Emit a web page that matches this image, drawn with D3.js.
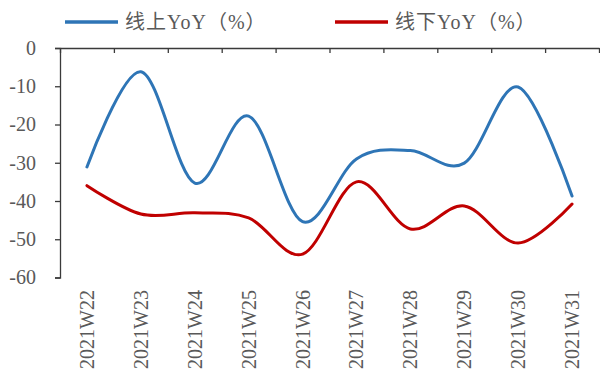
<!DOCTYPE html>
<html>
<head>
<meta charset="utf-8">
<script src="https://cdn.jsdelivr.net/npm/d3@7"></script>
<style>
  html, body { margin: 0; padding: 0; background: #fff; }
  svg { display: block; }
</style>
</head>
<body>
<svg id="chart" width="600" height="371"></svg>
<script>
// Weekly categories
const weeks = ["2021W22", "2021W23", "2021W24", "2021W25", "2021W26",
               "2021W27", "2021W28", "2021W29", "2021W30", "2021W31"];
// Online YoY (%)
const onlineYoY = [-31.1, -6.2, -35.3, -17.8, -45.4, -29.0, -26.8, -30.1, -10.2, -38.7];
// Offline YoY (%)
const offlineYoY = [-36.0, -43.4, -43.1, -44.4, -53.9, -35.0, -47.3, -41.3, -51.0, -40.8];
// Y axis tick values
const yTicks = [0, -10, -20, -30, -40, -50, -60];
// Legend entries
const seriesNames = ["线上YoY（%）", "线下YoY（%）"];
const seriesColors = ["#2E75B6", "#C00000"];

const SERIF = "'Liberation Serif', 'Times New Roman', serif";
const CJK = "'Liberation Serif', 'Noto Sans CJK SC', serif";
const TEXT_COLOR = "#595959";
const AXIS_COLOR = "#3a3a3a";

const svg = d3.select("#chart");
const plot = { left: 60, right: 599, top: 48, bottom: 277.5 };

const x = d3.scaleBand().domain(weeks).range([plot.left, plot.right]).padding(0);
const y = d3.scaleLinear().domain([-60, 0]).range([plot.bottom, plot.top]);

// Y axis (left); plain hyphen for negative numbers
const yAxis = d3.axisLeft(y).tickValues(yTicks).tickSize(5).tickPadding(19).tickFormat(d => String(d));
const gy = svg.append("g").attr("transform", `translate(${plot.left},0)`).call(yAxis);
gy.select(".domain").attr("stroke", AXIS_COLOR).attr("stroke-width", 1.3);
gy.selectAll(".tick line").attr("stroke", AXIS_COLOR).attr("stroke-width", 1.3);
gy.selectAll(".tick text")
  .style("font-size", "20px")
  .style("font-family", SERIF)
  .style("fill", TEXT_COLOR);

// Category axis drawn along the zero line, ticks at band boundaries
const xb = d3.scaleLinear().domain([0, weeks.length]).range([plot.left, plot.right]);
const xAxis = d3.axisBottom(xb).tickValues(d3.range(0, weeks.length + 1)).tickSize(5).tickFormat("").tickSizeOuter(0);
const gx = svg.append("g").attr("transform", `translate(0,${y(0)})`).call(xAxis);
gx.select(".domain").attr("stroke", AXIS_COLOR).attr("stroke-width", 1.3);
gx.selectAll(".tick line").attr("stroke", AXIS_COLOR).attr("stroke-width", 1.3);

// Rotated category labels below the plot
svg.append("g").selectAll("text").data(weeks).join("text")
  .attr("transform", d => `translate(${x(d) + x.bandwidth() / 2 + 7},290) rotate(-90)`)
  .attr("text-anchor", "end")
  .style("font-size", "20px")
  .style("font-family", SERIF)
  .style("fill", TEXT_COLOR)
  .text(d => d);

// Smoothed lines
const line = d3.line()
  .x((d, i) => x(weeks[i]) + x.bandwidth() / 2)
  .y(d => y(d))
  .curve(d3.curveCatmullRom.alpha(0));

[onlineYoY, offlineYoY].forEach((vals, k) => {
  svg.append("path")
    .datum(vals)
    .attr("d", line)
    .attr("fill", "none")
    .attr("stroke", seriesColors[k])
    .attr("stroke-width", 3)
    .attr("stroke-linecap", "round")
    .attr("stroke-linejoin", "round");
});

// Legend
const legendX = [65, 335];
seriesNames.forEach((name, k) => {
  const g = svg.append("g").attr("transform", `translate(${legendX[k]},22)`);
  g.append("line").attr("x1", 0).attr("x2", 53).attr("y1", 0).attr("y2", 0)
    .attr("stroke", seriesColors[k]).attr("stroke-width", 3.5);
  g.append("text").attr("x", 60).attr("y", 7)
    .style("font-size", "20px")
    .style("font-family", CJK)
    .style("letter-spacing", "1px")
    .style("fill", TEXT_COLOR)
    .text(name);
});
</script>
</body>
</html>
